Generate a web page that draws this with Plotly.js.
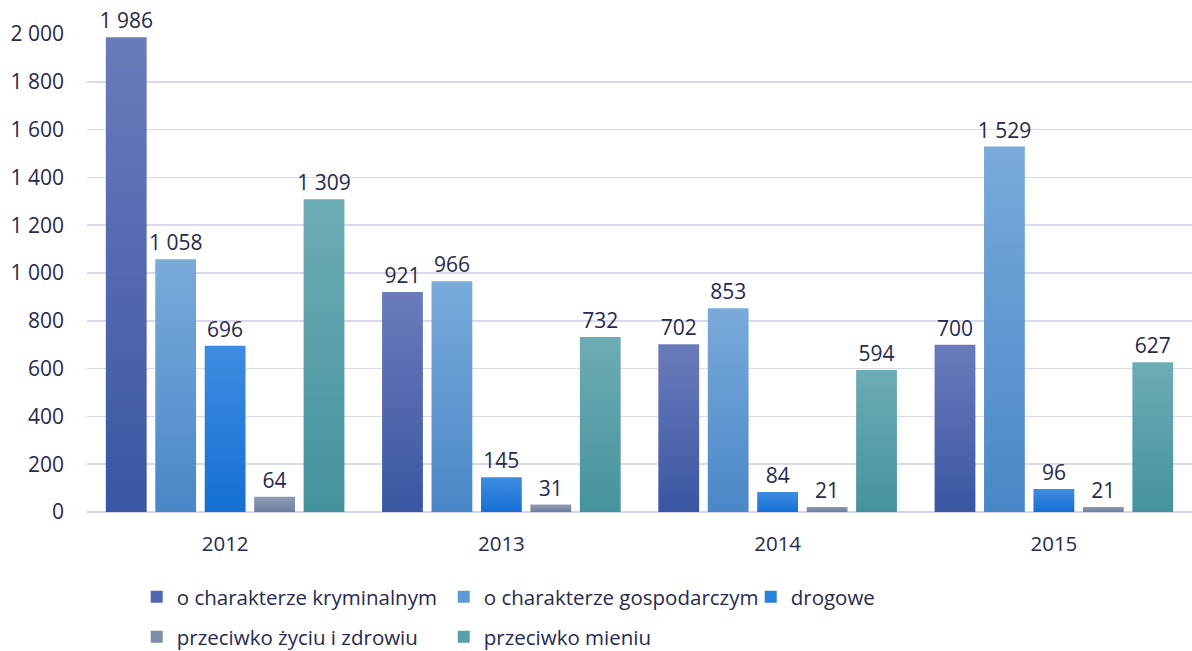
<!DOCTYPE html>
<html><head><meta charset="utf-8">
<script src="https://cdn.plot.ly/plotly-3.0.1.min.js"></script>
<style>body{margin:0;background:#fff}#chart{width:1192px;height:651px}</style>
</head><body><div id="chart"></div>
<script>
const years = ['2012', '2013', '2014', '2015'];
const seriesNames = ['o charakterze kryminalnym', 'o charakterze gospodarczym', 'drogowe', 'przeciwko życiu i zdrowiu', 'przeciwko mieniu'];
const kryminalne = [1986, 921, 702, 700];
const gospodarcze = [1058, 966, 853, 1529];
const drogowe = [696, 145, 84, 96];
const zycieZdrowie = [64, 31, 21, 21];
const mienie = [1309, 732, 594, 627];
const yTicks = [0, 200, 400, 600, 800, 1000, 1200, 1400, 1600, 1800, 2000];

const allValues = [kryminalne, gospodarcze, drogowe, zycieZdrowie, mienie];
const midColors = ['#4f67b0', '#5e9ad6', '#2a80dc', '#7e8ca8', '#58a0a9'];
const topColors = ['#6a7bbb', '#79aada', '#3f8ce2', '#919cb3', '#6eacb4'];
const botColors = ['#3a56a2', '#4a87c7', '#1570d2', '#6b7d9d', '#44939c'];
const txt = '#262a4f';
const font = 'Open Sans, Noto Sans, sans-serif';

const traces = allValues.map((vals, i) => ({
  type: 'bar', x: years, y: vals, name: seriesNames[i],
  marker: {color: midColors[i], line: {width: 0}},
  text: vals, texttemplate: '%{y:,d}', textposition: 'outside',
  constraintext: 'none',
  textfont: {family: font, size: 21, color: txt},
  cliponaxis: false, hoverinfo: 'none',
  legend: i < 3 ? 'legend' : 'legend2'
}));

const legendCommon = {
  orientation: 'h', xanchor: 'left', yanchor: 'middle', yref: 'container',
  font: {family: font, size: 20.5, color: txt},
  entrywidth: 262, entrywidthmode: 'pixels', itemwidth: 30,
  bgcolor: 'rgba(0,0,0,0)', traceorder: 'normal'
};

const layout = {
  width: 1192, height: 651,
  margin: {l: 87, r: 0, t: 34, b: 139},
  paper_bgcolor: '#fff', plot_bgcolor: '#fff',
  separators: ', ',
  barmode: 'group', bargap: 0.105, bargroupgap: 0.175,
  showlegend: true,
  font: {family: font, size: 20, color: txt},
  xaxis: {type: 'category', showgrid: false, zeroline: false, showline: false,
    ticks: '', tickfont: {family: font, size: 20.5, color: txt}, ticklabelstandoff: 17},
  yaxis: {range: [0, 2000], tickvals: yTicks, tickformat: ',d', showgrid: true,
    gridcolor: '#d9d9ee', gridwidth: 1.5, zeroline: true, zerolinecolor: '#d4d4ea', zerolinewidth: 2,
    showline: false, ticks: '', tickfont: {family: font, size: 21, color: txt}, ticklabelstandoff: 22},
  legend: Object.assign({x: 0.045, y: 1 - 597 / 651}, legendCommon),
  legend2: Object.assign({x: 0.045, y: 1 - 637 / 651}, legendCommon)
};

Plotly.newPlot('chart', traces, layout, {staticPlot: true}).then(gd => {
  const svg = gd.querySelector('.main-svg');
  const defs = svg.querySelector('defs');
  const NS = 'http://www.w3.org/2000/svg';
  allValues.forEach((_, i) => {
    const g = document.createElementNS(NS, 'linearGradient');
    g.setAttribute('id', 'bargrad' + i);
    g.setAttribute('x1', '0'); g.setAttribute('y1', '0');
    g.setAttribute('x2', '0'); g.setAttribute('y2', '1');
    [[0, topColors[i]], [1, botColors[i]]].forEach(([o, c]) => {
      const s = document.createElementNS(NS, 'stop');
      s.setAttribute('offset', o); s.setAttribute('stop-color', c);
      g.appendChild(s);
    });
    defs.appendChild(g);
  });
  gd.querySelectorAll('.barlayer .trace.bars').forEach((t, i) => {
    t.querySelectorAll('.point path').forEach(p => { p.style.fill = 'url(#bargrad' + i + ')'; });
  });
});
</script></body></html>
